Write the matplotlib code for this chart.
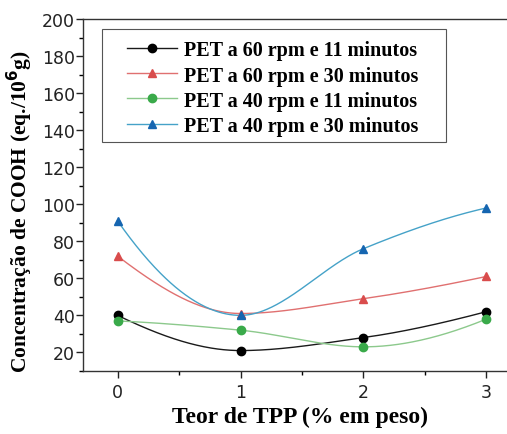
import numpy as np
import matplotlib
matplotlib.use("Agg")
import matplotlib.pyplot as plt
from matplotlib.ticker import MultipleLocator
from matplotlib.lines import Line2D
from matplotlib.patches import Rectangle

# TPP content (% by weight)
tpp = [0, 1, 2, 3]

# COOH concentration (eq./10^6 g) for each processing condition
pet_60_11 = [40, 21, 28, 42]
pet_60_30 = [72, 41, 49, 61]
pet_40_11 = [37, 32, 23, 38]
pet_40_30 = [91, 40, 76, 98]

labels = [
    "PET a 60 rpm e 11 minutos",
    "PET a 60 rpm e 30 minutos",
    "PET a 40 rpm e 11 minutos",
    "PET a 40 rpm e 30 minutos",
]


def pchip(x, y, xs):
    """Shape-preserving cubic curve through the points (for smooth connecting lines)."""
    x = np.asarray(x, float)
    y = np.asarray(y, float)
    h = np.diff(x)
    d = np.diff(y) / h
    n = len(x)
    m = np.zeros(n)
    for k in range(1, n - 1):
        if d[k - 1] * d[k] > 0:
            w1 = 2 * h[k] + h[k - 1]
            w2 = h[k] + 2 * h[k - 1]
            m[k] = (w1 + w2) / (w1 / d[k - 1] + w2 / d[k])
    m[0] = ((2 * h[0] + h[1]) * d[0] - h[0] * d[1]) / (h[0] + h[1])
    if np.sign(m[0]) != np.sign(d[0]):
        m[0] = 0
    m[-1] = ((2 * h[-1] + h[-2]) * d[-1] - h[-1] * d[-2]) / (h[-1] + h[-2])
    if np.sign(m[-1]) != np.sign(d[-1]):
        m[-1] = 0
    out = np.empty_like(xs, dtype=float)
    for i, xv in enumerate(xs):
        k = min(np.searchsorted(x, xv, side="right") - 1, n - 2)
        k = max(k, 0)
        t = (xv - x[k]) / h[k]
        h00 = 2 * t**3 - 3 * t**2 + 1
        h10 = t**3 - 2 * t**2 + t
        h01 = -2 * t**3 + 3 * t**2
        h11 = t**3 - t**2
        out[i] = h00 * y[k] + h10 * h[k] * m[k] + h01 * y[k + 1] + h11 * h[k] * m[k + 1]
    return out


fig = plt.figure(figsize=(5.07, 4.35), dpi=100)
ax = fig.add_axes([0.164, 0.145, 0.856, 0.809])

series = [
    (pet_60_11, "#1a1a1a", "#000000", "o"),
    (pet_60_30, "#e07070", "#d94c4c", "^"),
    (pet_40_11, "#8cc98c", "#3aaa4a", "o"),
    (pet_40_30, "#45a2c8", "#1565b0", "^"),
]

xs = np.linspace(tpp[0], tpp[-1], 300)
handles = []
for vals, lc, mc, mk in series:
    ax.plot(xs, pchip(tpp, vals, xs), color=lc, lw=1.0, zorder=2)
    ax.plot(tpp, vals, linestyle="none", marker=mk, ms=6, color=mc,
            markeredgecolor=mc, zorder=3)
    handles.append(Line2D([], [], color=lc, lw=1.0, marker=mk, ms=6,
                          markerfacecolor=mc, markeredgecolor=mc))

ax.set_xlim(-0.28, 3.25)
ax.set_ylim(10, 200)
ax.yaxis.set_minor_locator(MultipleLocator(10))
ax.xaxis.set_minor_locator(MultipleLocator(0.5))
ax.set_xticks(tpp)
ax.set_yticks(np.arange(20, 201, 20))
ax.tick_params(axis="both", which="major", direction="out", length=5, width=1,
               labelsize=12.5, colors="#222222")
ax.tick_params(axis="y", which="major", pad=1)
ax.tick_params(axis="x", which="major", pad=4)
ax.tick_params(axis="both", which="minor", direction="out", length=3, width=1)
ax.tick_params(top=False, right=False)
for lab in ax.get_xticklabels() + ax.get_yticklabels():
    lab.set_fontfamily("DejaVu Sans")
for sp in ax.spines.values():
    sp.set_color("#333333")
    sp.set_linewidth(1.0)

ax.set_xlabel("Teor de TPP (% em peso)", fontfamily="Liberation Serif",
              fontweight="bold", fontsize=17, labelpad=3)
ax.set_ylabel("Concentração de COOH (eq./10$^{\\mathbf{6}}$g)",
              fontfamily="Liberation Serif", fontweight="bold", fontsize=15.5)
ax.yaxis.set_label_coords(-0.112, 0.457)

# legend box drawn separately for wider side margins
ax.add_patch(Rectangle((0.044, 0.651), 0.792, 0.321, transform=ax.transAxes,
                       facecolor="white", edgecolor="#555555", lw=0.8, zorder=4))
leg = ax.legend(handles, labels, loc="upper left", bbox_to_anchor=(0.101, 0.939),
                prop={"family": "Liberation Serif", "weight": "bold", "size": 14.5},
                frameon=False, handlelength=2.5, handletextpad=0.35,
                labelspacing=0.25, borderpad=0, borderaxespad=0)
leg.set_zorder(5)

fig.savefig("out.png", dpi=100)
